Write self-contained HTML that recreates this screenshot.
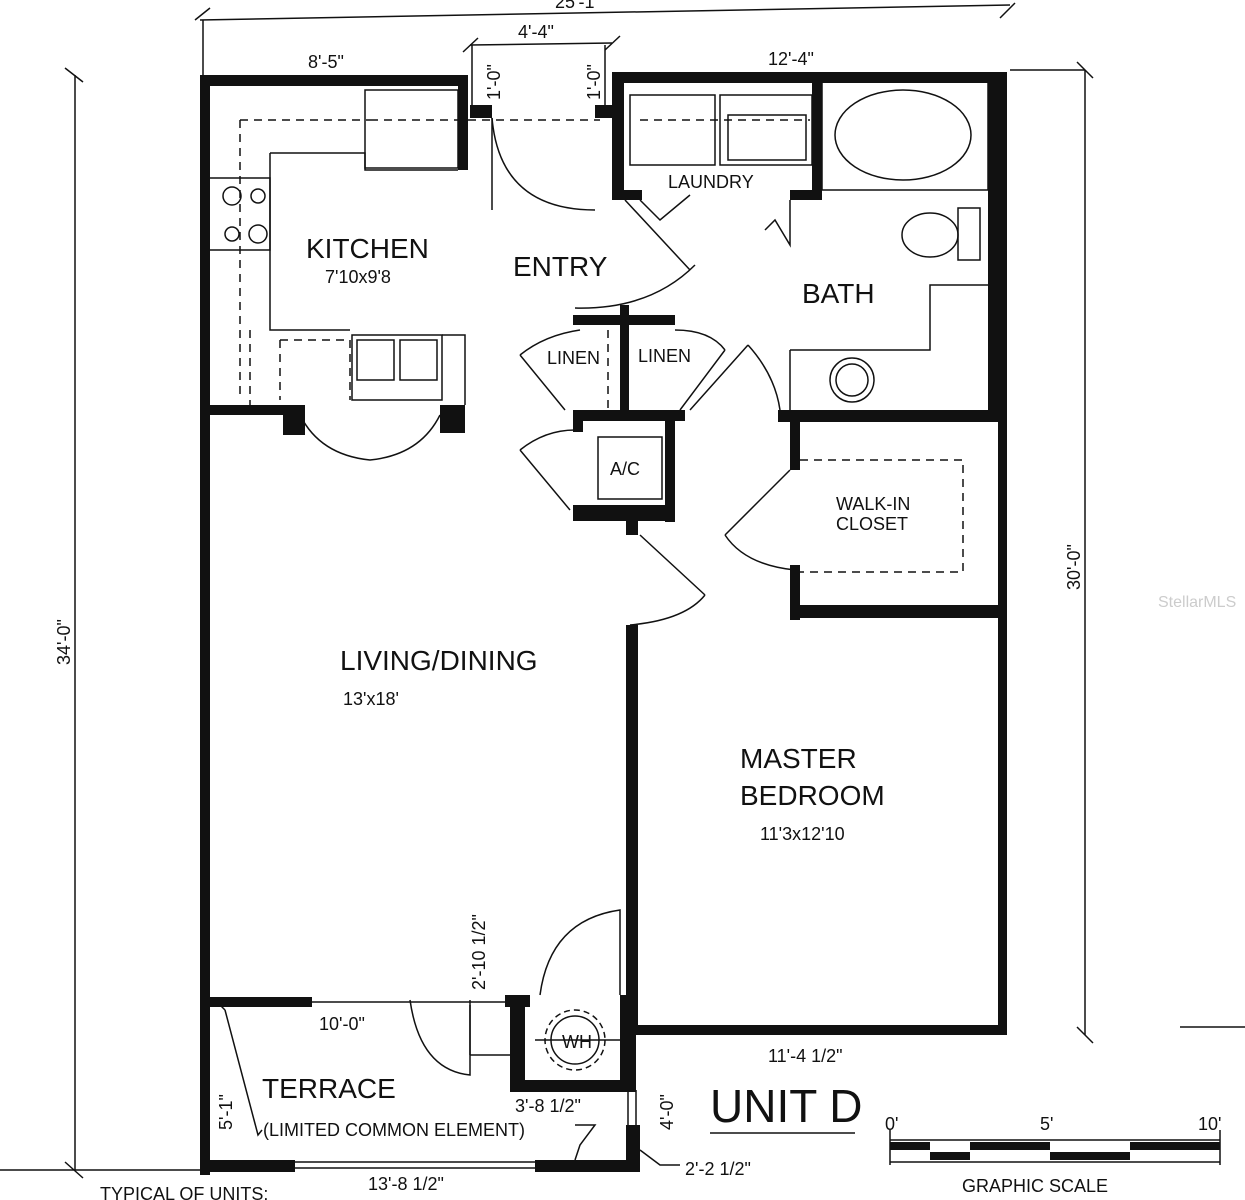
<!DOCTYPE html>
<html><head><style>
body{margin:0;background:#fff}
svg{display:block}
text{font-family:"Liberation Sans",sans-serif;fill:#111}
</style></head><body>
<svg width="1245" height="1200" viewBox="0 0 1245 1200" xmlns="http://www.w3.org/2000/svg">
<g stroke="#111" stroke-width="1.5" fill="none">
<!-- dimension lines -->
<line x1="200" y1="20" x2="1010" y2="5"/>
<line x1="195" y1="20" x2="210" y2="8"/><line x1="1000" y1="18" x2="1015" y2="3"/>
<line x1="203" y1="20" x2="203" y2="75"/>
<line x1="470" y1="45" x2="612" y2="43"/><line x1="463" y1="52" x2="478" y2="38"/><line x1="605" y1="50" x2="620" y2="36"/>
<line x1="472" y1="45" x2="472" y2="110"/><line x1="605" y1="45" x2="605" y2="110"/>
<line x1="1010" y1="70" x2="1085" y2="70"/><line x1="1085" y1="70" x2="1085" y2="1035"/>
<line x1="1077" y1="62" x2="1093" y2="78"/><line x1="1077" y1="1027" x2="1093" y2="1043"/>
<line x1="75" y1="75" x2="75" y2="1170"/><line x1="65" y1="68" x2="83" y2="82"/><line x1="65" y1="1162" x2="83" y2="1178"/>
<line x1="0" y1="1170" x2="200" y2="1170"/>
<line x1="1180" y1="1027" x2="1245" y2="1027"/>
<line x1="470" y1="1005" x2="470" y2="1055"/><line x1="470" y1="1055" x2="515" y2="1055"/>
<!-- dashed counters -->
<g stroke-dasharray="8,6">
<path d="M240 120 L370 120 M240 120 L240 400 M370 120 L600 120"/>
<path d="M280 340 L350 340 L350 400 M280 340 L280 400"/>
<path d="M800 460 L963 460 L963 572 L800 572"/>
<path d="M640 120 L810 120"/>
<path d="M250 330 L250 410 M608 330 L608 410"/>
</g>
<!-- kitchen counter -->
<path d="M270 153 L365 153 L365 170 L458 170 M270 153 L270 330 L350 330"/>
<rect x="365" y="90" width="93" height="78"/>
<rect x="208" y="178" width="62" height="72"/>
<circle cx="232" cy="196" r="9"/><circle cx="258" cy="196" r="7"/><circle cx="232" cy="234" r="7"/><circle cx="258" cy="234" r="9"/>
<rect x="352" y="335" width="90" height="65"/><rect x="357" y="340" width="37" height="40"/><rect x="400" y="340" width="37" height="40"/>
<path d="M442 335 L465 335 L465 405"/>
<!-- laundry -->
<rect x="630" y="95" width="85" height="70"/><rect x="720" y="95" width="92" height="70"/><rect x="728" y="115" width="78" height="45"/>
<!-- bath fixtures -->
<ellipse cx="903" cy="135" rx="68" ry="45"/><rect x="822" y="82" width="166" height="108"/>
<ellipse cx="930" cy="235" rx="28" ry="22"/><rect x="958" y="208" width="22" height="52"/>
<path d="M790 350 L930 350 L930 285 L988 285 M790 350 L790 410"/>
<circle cx="852" cy="380" r="22"/><circle cx="852" cy="380" r="16"/>
<!-- A/C -->
<rect x="598" y="437" width="64" height="62"/>
<!-- WH -->
<circle cx="575" cy="1040" r="30" stroke-dasharray="6,4"/><circle cx="575" cy="1040" r="24"/>
<line x1="535" y1="1040" x2="625" y2="1040"/>
<!-- doors: arcs and leaves -->
<path d="M492 118 Q500 210 595 210"/><line x1="492" y1="118" x2="492" y2="210"/>
<path d="M625 200 L690 270 M695 265 Q650 310 575 308"/>
<path d="M640 200 L660 220 L690 195"/>
<path d="M765 230 L775 220 L790 245 L790 200"/>
<path d="M520 355 L565 410 M520 355 Q545 335 580 330"/>
<path d="M725 350 L680 410 M725 350 Q710 330 675 330"/>
<path d="M748 345 L690 410 M748 345 Q775 375 780 410"/>
<path d="M520 450 L570 510 M520 450 Q545 430 575 430"/>
<path d="M640 535 L705 595 M705 595 Q685 620 630 625"/>
<path d="M790 470 L725 535 M725 535 Q745 565 795 570"/>
<path d="M300 415 Q320 455 370 460 Q420 455 440 415"/>
<path d="M540 995 Q550 920 620 910 L620 995"/>
<path d="M410 1000 Q420 1070 470 1075 L470 1000"/>
<line x1="310" y1="1002" x2="510" y2="1002"/>
<line x1="730" y1="1027" x2="920" y2="1027"/>
<line x1="295" y1="1162" x2="535" y2="1162"/><line x1="295" y1="1168" x2="535" y2="1168"/>
<line x1="628" y1="1090" x2="628" y2="1130"/><line x1="636" y1="1090" x2="636" y2="1130"/>
<path d="M225 1010 L215 1000 M225 1010 L258 1135 L262 1130"/>
<path d="M575 1125 L595 1125 L580 1145 L575 1160"/>
<path d="M640 1150 L660 1165 L680 1165"/>
<!-- scale -->
<line x1="890" y1="1140" x2="1220" y2="1140"/><line x1="890" y1="1162" x2="1220" y2="1162"/>
<line x1="890" y1="1130" x2="890" y2="1165"/><line x1="1220" y1="1130" x2="1220" y2="1165"/>
<line x1="710" y1="1133" x2="855" y2="1133"/>
</g>
<g fill="#111">
<rect x="890" y="1142" width="40" height="8"/><rect x="970" y="1142" width="80" height="8"/><rect x="1130" y="1142" width="90" height="8"/>
<rect x="930" y="1152" width="40" height="8"/><rect x="1050" y="1152" width="80" height="8"/>
</g>
<!-- walls -->
<g fill="#111">
<rect x="200" y="75" width="265" height="11"/>
<rect x="200" y="75" width="10" height="1100"/>
<rect x="458" y="75" width="10" height="95"/>
<rect x="470" y="105" width="22" height="13"/><rect x="595" y="105" width="20" height="13"/>
<rect x="612" y="72" width="395" height="11"/>
<rect x="612" y="72" width="12" height="125"/>
<rect x="612" y="190" width="30" height="10"/><rect x="790" y="190" width="32" height="10"/>
<rect x="812" y="72" width="10" height="128"/>
<rect x="988" y="72" width="18" height="350"/>
<rect x="998" y="72" width="9" height="963"/>
<rect x="203" y="405" width="100" height="10"/><rect x="283" y="405" width="22" height="30"/>
<rect x="440" y="405" width="25" height="28"/>
<rect x="573" y="315" width="102" height="10"/><rect x="620" y="305" width="9" height="115"/>
<rect x="573" y="410" width="112" height="11"/><rect x="573" y="410" width="10" height="22"/>
<rect x="665" y="410" width="10" height="112"/><rect x="573" y="505" width="102" height="16"/>
<rect x="626" y="520" width="12" height="15"/>
<rect x="778" y="410" width="228" height="12"/><rect x="778" y="410" width="12" height="10"/>
<rect x="790" y="420" width="10" height="50"/><rect x="790" y="565" width="10" height="55"/>
<rect x="790" y="605" width="216" height="13"/>
<rect x="626" y="625" width="12" height="410"/>
<rect x="626" y="1025" width="380" height="10"/>
<rect x="620" y="995" width="16" height="95"/>
<rect x="510" y="995" width="15" height="97"/><rect x="505" y="995" width="25" height="12"/>
<rect x="510" y="1080" width="126" height="12"/>
<rect x="626" y="1125" width="14" height="45"/>
<rect x="535" y="1160" width="105" height="12"/>
<rect x="200" y="997" width="112" height="10"/>
<rect x="200" y="1160" width="95" height="12"/>
</g>
<!-- labels -->
<g font-size="18">
<text x="555" y="8">25'-1"</text>
<text x="308" y="68">8'-5"</text>
<text x="518" y="38">4'-4"</text>
<text x="768" y="65">12'-4"</text>
<text x="319" y="1030">10'-0"</text>
<text x="768" y="1062">11'-4 1/2"</text>
<text x="515" y="1112">3'-8 1/2"</text>
<text x="368" y="1190">13'-8 1/2"</text>
<text x="685" y="1175">2'-2 1/2"</text>
<text transform="translate(500,100) rotate(-90)">1'-0"</text>
<text transform="translate(600,100) rotate(-90)">1'-0"</text>
<text transform="translate(70,665) rotate(-90)">34'-0"</text>
<text transform="translate(1080,590) rotate(-90)">30'-0"</text>
<text transform="translate(485,990) rotate(-90)">2'-10 1/2"</text>
<text transform="translate(232,1130) rotate(-90)">5'-1"</text>
<text transform="translate(673,1130) rotate(-90)">4'-0"</text>
</g>
<g font-size="28">
<text x="306" y="258">KITCHEN</text>
<text x="513" y="276">ENTRY</text>
<text x="802" y="303">BATH</text>
<text x="340" y="670">LIVING/DINING</text>
<text x="740" y="768">MASTER</text>
<text x="740" y="805">BEDROOM</text>
<text x="262" y="1098">TERRACE</text>
</g>
<g font-size="18">
<text x="325" y="283">7'10x9'8</text>
<text x="343" y="705">13'x18'</text>
<text x="760" y="840">11'3x12'10</text>
<text x="668" y="188">LAUNDRY</text>
<text x="547" y="364">LINEN</text>
<text x="638" y="362">LINEN</text>
<text x="610" y="475">A/C</text>
<text x="836" y="510">WALK-IN</text>
<text x="836" y="530">CLOSET</text>
<text x="562" y="1048">WH</text>
<text x="263" y="1136">(LIMITED COMMON ELEMENT)</text>
<text x="885" y="1130">0'</text><text x="1040" y="1130">5'</text><text x="1198" y="1130">10'</text>
<text x="962" y="1192">GRAPHIC SCALE</text>
<text x="100" y="1200">TYPICAL OF UNITS:</text>
<text x="1158" y="607" fill="#ccc" font-size="16" style="fill:#ccc">StellarMLS</text>
</g>
<text x="710" y="1122" font-size="46">UNIT D</text>
</svg>
</body></html>
